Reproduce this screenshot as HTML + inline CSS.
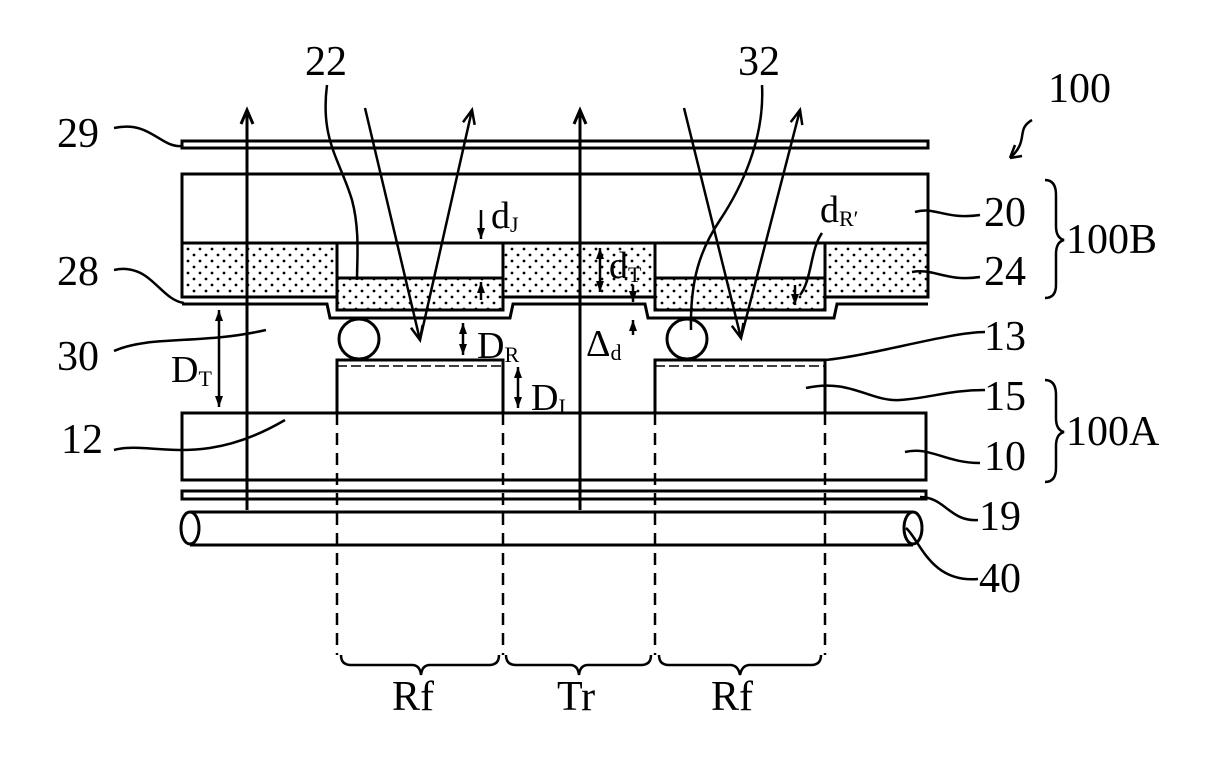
<!DOCTYPE html>
<html><head><meta charset="utf-8"><style>
html,body{margin:0;padding:0;background:#fff;}
svg{display:block;}
text{font-family:"Liberation Serif",serif;fill:#000;}
</style></head><body>
<svg width="1206" height="760" viewBox="0 0 1206 760" xmlns="http://www.w3.org/2000/svg">
<defs>
<pattern id="dots" width="12" height="12" patternUnits="userSpaceOnUse">
<circle cx="2" cy="3" r="1.4" fill="#000"/><circle cx="8" cy="9" r="1.4" fill="#000"/>
</pattern>
</defs>
<g fill="none" stroke="#000" stroke-width="3">
<rect x="182" y="141" width="746" height="7"/>
<rect x="182" y="174" width="746" height="69"/>
<rect x="182" y="243" width="155" height="54" fill="url(#dots)"/>
<rect x="503" y="243" width="152" height="54" fill="url(#dots)"/>
<rect x="825" y="243" width="103" height="54" fill="url(#dots)"/>
<rect x="337" y="243" width="166" height="67"/>
<rect x="337" y="278" width="166" height="32" fill="url(#dots)"/>
<rect x="655" y="243" width="170" height="67"/>
<rect x="655" y="278" width="170" height="32" fill="url(#dots)"/>
<path d="M182,304 H327 L330,318 H510 L513,304 H645 L648,318 H834 L837,304 H928"/>
<circle cx="359" cy="339" r="20"/>
<circle cx="687" cy="339" r="20"/>
<rect x="337" y="360" width="166" height="53"/>
<line x1="337" y1="366" x2="503" y2="366" stroke-width="1.5" stroke-dasharray="10,4"/>
<rect x="655" y="360" width="170" height="53"/>
<line x1="655" y1="366" x2="825" y2="366" stroke-width="1.5" stroke-dasharray="10,4"/>
<rect x="182" y="413" width="744" height="67"/>
<rect x="182" y="491" width="744" height="8"/>
<path d="M190,512 H913 M190,545 H913"/>
<ellipse cx="190" cy="528" rx="9" ry="16"/>
<ellipse cx="913" cy="528" rx="9" ry="16"/>
<g stroke-dasharray="12,8" stroke-width="2.5">
<line x1="337" y1="413" x2="337" y2="655"/>
<line x1="503" y1="413" x2="503" y2="655"/>
<line x1="655" y1="413" x2="655" y2="655"/>
<line x1="825" y1="413" x2="825" y2="655"/>
</g>
<g stroke-width="2.5">
<path d="M341,655 Q341,665 351,665 H412 Q420,665 421,675 Q422,665 430,665 H489 Q499,665 499,655"/>
<path d="M506,655 Q506,665 516,665 H570 Q578,665 579,675 Q580,665 588,665 H641 Q651,665 651,655"/>
<path d="M659,655 Q659,665 669,665 H730 Q738,665 740,675 Q742,665 750,665 H811 Q821,665 821,655"/>
</g>
<line x1="247" y1="510" x2="247" y2="110"/>
<path d="M241,124 L247,110 L253,124"/>
<line x1="580" y1="510" x2="580" y2="110"/>
<path d="M574,124 L580,110 L586,124"/>
<g stroke-width="2.5">
<path d="M365,108 L420,340 L472,110"/>
<path d="M474.7,124.9 L472,110 L463,122.3"/>
<path d="M422.6,325 L420,340 L411,327.8"/>
<path d="M684,108 L741,338 L800,110"/>
<path d="M802.3,125.1 L800,110 L790.7,122.1"/>
<path d="M743.4,323 L741,338 L731.8,325.8"/>
</g>
</g>
<g stroke="#000" stroke-width="2.5" fill="none">
<line x1="219" y1="310" x2="219" y2="407"/>
<line x1="463" y1="323" x2="463" y2="355"/>
<line x1="518" y1="367" x2="518" y2="408"/>
<line x1="600" y1="248" x2="600" y2="292"/>
<line x1="481" y1="210" x2="481" y2="239"/>
<line x1="481" y1="300" x2="481" y2="282"/>
<line x1="633" y1="285" x2="633" y2="302"/>
<line x1="633" y1="335" x2="633" y2="320"/>
<line x1="795" y1="285" x2="795" y2="305"/>
</g>
<g fill="#000">
<polygon points="215,321 219,310 223,321"/><polygon points="215,396 219,407 223,396"/>
<polygon points="459,334 463,323 467,334"/><polygon points="459,344 463,355 467,344"/>
<polygon points="514,378 518,367 522,378"/><polygon points="514,397 518,408 522,397"/>
<polygon points="596,259 600,248 604,259"/><polygon points="596,281 600,292 604,281"/>
<polygon points="477,228 481,239 485,228"/>
<polygon points="477,293 481,282 485,293"/>
<polygon points="629,291 633,302 637,291"/>
<polygon points="629,331 633,320 637,331"/>
<polygon points="791,294 795,305 799,294"/>
</g>
<g stroke="#000" stroke-width="2.5" fill="none">
<path d="M114,128 C150,120 160,148 182,146"/>
<path d="M114,270 C150,262 160,300 184,303"/>
<path d="M114,351 C150,335 200,345 266,330"/>
<path d="M114,450 C150,440 200,470 285,420"/>
<path d="M327,85 C320,140 340,160 352,200 C360,230 357,260 357,280"/>
<path d="M762,85 C765,140 740,190 720,220 C700,250 690,280 691,330"/>
<path d="M822,233 C810,250 812,280 800,295"/>
<path d="M1032,120 C1015,130 1030,140 1010,158"/>
<path d="M1010,158 L1015,145 M1010,158 L1022,156"/>
<path d="M915,212 C935,206 945,220 980,215"/>
<path d="M912,272 C935,268 945,282 980,277"/>
<path d="M825,360 C870,356 950,332 985,332"/>
<path d="M806,388 C850,378 870,402 900,400 C930,398 950,390 985,390"/>
<path d="M905,452 C930,446 945,463 980,463"/>
<path d="M920,497 C945,497 950,522 978,520"/>
<path d="M906,528 C920,540 930,583 978,579"/>
<path d="M1045,180 Q1056,180 1056,195 V226 Q1056,238 1064,240 Q1056,242 1056,254 V285 Q1056,298 1045,298"/>
<path d="M1045,380 Q1056,380 1056,395 V418 Q1056,430 1064,432 Q1056,434 1056,446 V468 Q1056,482 1045,482"/>
</g>
<g font-size="42">
<text x="57" y="147">29</text>
<text x="57" y="285">28</text>
<text x="57" y="370">30</text>
<text x="61" y="453">12</text>
<text x="305" y="75">22</text>
<text x="738" y="75">32</text>
<text x="1048" y="102">100</text>
<text x="984" y="226">20</text>
<text x="984" y="285">24</text>
<text x="984" y="350">13</text>
<text x="984" y="410">15</text>
<text x="984" y="470">10</text>
<text x="979" y="530">19</text>
<text x="979" y="592">40</text>
<text x="1066" y="253">100B</text>
<text x="1066" y="445">100A</text>
<text x="392" y="710">Rf</text>
<text x="557" y="710">Tr</text>
<text x="711" y="710">Rf</text>
</g>
<g font-size="38">
<text x="171" y="382">D<tspan font-size="22" dy="4">T</tspan></text>
<text x="477" y="358">D<tspan font-size="22" dy="4">R</tspan></text>
<text x="531" y="410">D<tspan font-size="22" dy="4">I</tspan></text>
<text x="491" y="228">d<tspan font-size="22" dy="4">J</tspan></text>
<text x="609" y="278">d<tspan font-size="22" dy="4">T</tspan></text>
<text x="586" y="356">Δ<tspan font-size="22" dy="4">d</tspan></text>
<text x="820" y="222">d<tspan font-size="22" dy="4">R′</tspan></text>
</g>
</svg>
</body></html>
